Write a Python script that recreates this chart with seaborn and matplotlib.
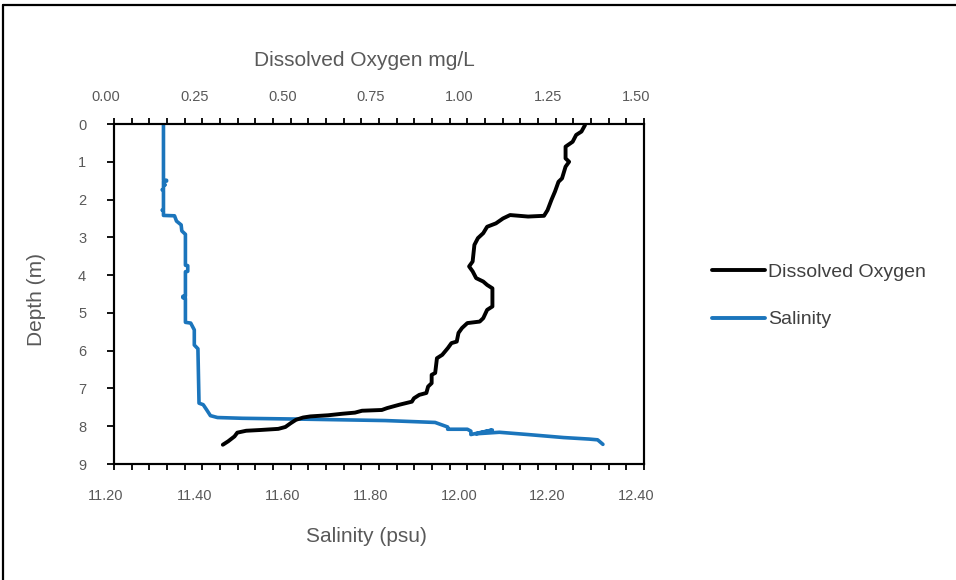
import matplotlib
matplotlib.use("Agg")
import matplotlib.pyplot as plt
import matplotlib.transforms as mtransforms
from matplotlib.lines import Line2D
from matplotlib.ticker import MultipleLocator, FixedLocator
import seaborn as sns
import pandas as pd

# ---- data ----
do_depth = [0.03, 0.2, 0.29, 0.47, 0.6, 0.91, 1.0, 1.13, 1.44, 1.53, 1.79, 2.01, 2.28, 2.43,
            2.45, 2.41, 2.5, 2.63, 2.72, 2.89, 3.02, 3.2, 3.64, 3.77, 3.9, 4.08, 4.17, 4.26,
            4.35, 4.83, 4.92, 5.14, 5.23, 5.27, 5.4, 5.53, 5.76, 5.8, 5.93, 6.11, 6.2, 6.59,
            6.64, 6.86, 6.95, 7.12, 7.17, 7.26, 7.35, 7.43, 7.52, 7.57, 7.59, 7.64, 7.67,
            7.71, 7.74, 7.77, 7.83, 7.92, 8.02, 8.07, 8.1, 8.12, 8.17, 8.27, 8.4, 8.49]
do_values = [1.333, 1.323, 1.308, 1.298, 1.278, 1.278, 1.288, 1.278, 1.268, 1.258, 1.248, 1.238,
             1.227, 1.217, 1.172, 1.121, 1.101, 1.081, 1.056, 1.045, 1.03, 1.02, 1.015, 1.005,
             1.015, 1.025, 1.045, 1.056, 1.071, 1.071, 1.056, 1.045, 1.035, 1.0, 0.985, 0.975,
             0.97, 0.955, 0.945, 0.929, 0.914, 0.909, 0.899, 0.899, 0.889, 0.884, 0.864, 0.849,
             0.843, 0.808, 0.773, 0.758, 0.702, 0.682, 0.646, 0.606, 0.556, 0.535, 0.515, 0.5,
             0.485, 0.465, 0.414, 0.374, 0.349, 0.341, 0.323, 0.308]

sal_depth = [0.0, 1.48, 1.49, 1.51, 1.52, 1.6, 1.61, 1.63, 1.73, 1.74, 1.76, 2.27, 2.28, 2.3,
             2.42, 2.43, 2.57, 2.67, 2.83, 2.92, 3.74, 3.75, 3.9, 3.91, 4.55, 4.56, 4.58, 4.6,
             4.62, 4.64, 5.25, 5.27, 5.45, 5.85, 5.95, 7.39, 7.43, 7.57, 7.72, 7.77, 7.79,
             7.81, 7.85, 7.9, 8.02, 8.08, 8.08, 8.13, 8.22, 8.1, 8.2, 8.16, 8.22, 8.3, 8.34,
             8.36, 8.48]
sal_values = [11.312, 11.312, 11.319, 11.319, 11.312, 11.312, 11.316, 11.312, 11.312, 11.309,
              11.312, 11.312, 11.309, 11.312, 11.312, 11.337, 11.3415, 11.352, 11.3535, 11.3617,
              11.3617, 11.367, 11.367, 11.3617, 11.3617, 11.356, 11.3617, 11.356, 11.3617,
              11.3617, 11.3617, 11.3737, 11.3818, 11.3818, 11.39, 11.3925, 11.402, 11.41,
              11.4183, 11.4343, 11.491, 11.612, 11.814, 11.927, 11.9555, 11.9555, 12.0, 12.008,
              12.008, 12.0565, 12.02, 12.0726, 12.137, 12.218, 12.2755, 12.295, 12.307]

series_names = ["Dissolved Oxygen", "Salinity"]
sal_ticks = [11.20, 11.40, 11.60, 11.80, 12.00, 12.20, 12.40]
do_ticks = [0.00, 0.25, 0.50, 0.75, 1.00, 1.25, 1.50]
depth_ticks = [0, 1, 2, 3, 4, 5, 6, 7, 8, 9]

# ---- style ----
sns.set_style("white")
plt.rcParams["font.family"] = ["Liberation Sans", "DejaVu Sans"]
TXT = "#595959"
BLUE = "#1B75BC"

fig = plt.figure(figsize=(9.56, 5.8), dpi=100)
ax = fig.add_axes([114/956, 1 - 464/580, 530/956, 340/580])
ax2 = ax.twiny()

df_sal = pd.DataFrame({"depth": sal_depth, "sal": sal_values})
df_do = pd.DataFrame({"depth": do_depth, "do": do_values})

sns.lineplot(data=df_sal, x="sal", y="depth", sort=False, estimator=None, ax=ax,
             color=BLUE, lw=2.6, solid_joinstyle="round", solid_capstyle="round")
sns.lineplot(data=df_do, x="do", y="depth", sort=False, estimator=None, ax=ax2,
             color="black", lw=2.8, solid_joinstyle="round", solid_capstyle="round")

ax.set_xlim(11.2, 12.4)
ax2.set_xlim(0, 1.5)
ax.set_ylim(9, 0)
ax.set_xlabel("")
ax.set_ylabel("")
ax2.set_xlabel("")
ax2.set_ylabel("")

for a in (ax, ax2):
    for s in a.spines.values():
        s.set_color("black")
        s.set_linewidth(1.5)

ax.xaxis.set_major_locator(FixedLocator(sal_ticks))
ax.xaxis.set_minor_locator(MultipleLocator(0.04))
ax.set_xticklabels([f"{v:.2f}" for v in sal_ticks])
ax.yaxis.set_major_locator(FixedLocator(depth_ticks))
ax.set_yticklabels([str(v) for v in depth_ticks])
ax2.xaxis.set_major_locator(FixedLocator(do_ticks))
ax2.xaxis.set_minor_locator(MultipleLocator(0.05))
ax2.set_xticklabels([f"{v:.2f}" for v in do_ticks])

ax.tick_params(axis="x", which="both", direction="out", length=4, width=1.3,
               color="black", bottom=True, top=False, labelsize=10.5, labelcolor=TXT, pad=14)
ax.tick_params(axis="y", which="both", direction="out", length=5, width=1.3,
               color="black", left=True, right=False, labelsize=10.5, labelcolor=TXT, pad=15)
ax2.tick_params(axis="x", which="both", direction="out", length=4, width=1.3,
                color="black", top=True, bottom=False, labelsize=10.5, labelcolor=TXT, pad=10.5)

# Excel-like left shift of x tick labels
shift = mtransforms.ScaledTranslation(-8/100, 0, fig.dpi_scale_trans)
for lab in ax.get_xticklabels() + ax2.get_xticklabels():
    lab.set_transform(lab.get_transform() + shift)

fig.text(364/956, 1 - 61/580, "Dissolved Oxygen mg/L", ha="center", va="center",
         fontsize=15, color=TXT)
fig.text(366/956, 1 - 537/580, "Salinity (psu)", ha="center", va="center",
         fontsize=15, color=TXT)
fig.text(36/956, 1 - 300/580, "Depth (m)", ha="center", va="center", rotation=90,
         fontsize=15, color=TXT)

handles = [Line2D([], [], color="black", lw=2.8), Line2D([], [], color=BLUE, lw=2.8)]
fig.legend(handles, series_names, loc="upper left", bbox_to_anchor=(712/956, 1 - 263/580),
           frameon=False, fontsize=14, handlelength=2.75, handletextpad=0.15,
           labelspacing=1.55, labelcolor="#404040", borderaxespad=0, borderpad=0)

# figure border (top and left edges visible in reference)
fig.add_artist(Line2D([3/956, 1], [1 - 5/580, 1 - 5/580], transform=fig.transFigure,
                      color="black", lw=1.6))
fig.add_artist(Line2D([3/956, 3/956], [0, 1 - 5/580], transform=fig.transFigure,
                      color="black", lw=1.6))

fig.savefig("out.png", dpi=100)
